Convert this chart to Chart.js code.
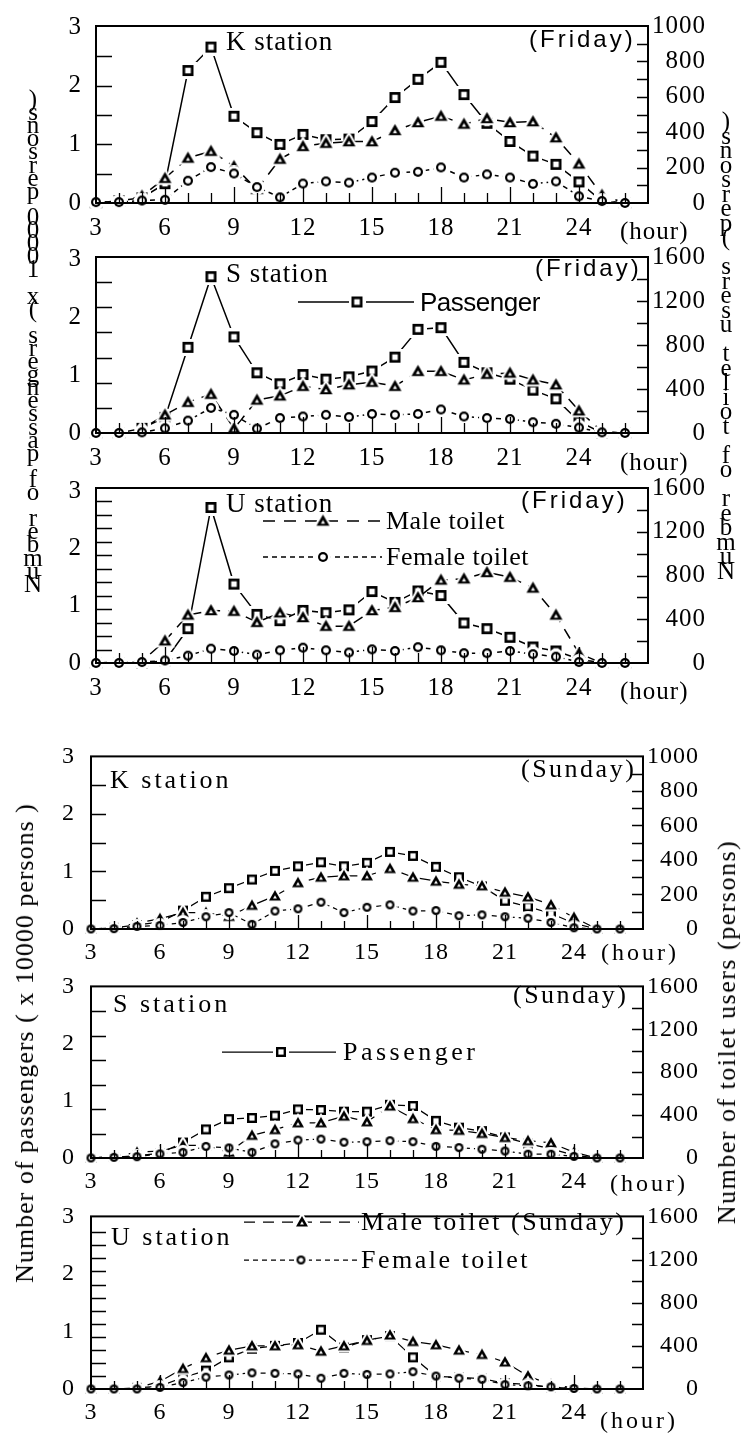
<!DOCTYPE html>
<html><head><meta charset="utf-8">
<script src="https://cdn.jsdelivr.net/npm/chart.js@4.4.1/dist/chart.umd.min.js"></script>
<style>
html,body{margin:0;padding:0;background:#fff;}
#wrap{position:relative;width:748px;height:1435px;overflow:hidden;background:#fff;}
canvas{position:absolute;left:0;}
.t{position:absolute;white-space:nowrap;color:#000;line-height:1;transform:translateY(-50%);}
.serif{font-family:"Liberation Serif","Times New Roman",serif;}
.sans{font-family:"Liberation Sans",Arial,sans-serif;}
.rot{position:absolute;white-space:nowrap;color:#000;line-height:1;transform:translate(-50%,-50%) rotate(-90deg);}
.ch{position:absolute;line-height:1;transform:translate(-50%,-50%);color:#000;}
</style></head><body><div id="wrap"></div>
<script>
// ---------- data (hours 3..26) ----------
const hours = [3,4,5,6,7,8,9,10,11,12,13,14,15,16,17,18,19,20,21,22,23,24,25,26];
const xTickLabels = [3,6,9,12,15,18,21,24];
const leftTickLabels = [0,1,2,3];
const rightTicks1000 = [0,200,400,600,800,1000];
const rightTicks1600 = [0,400,800,1200,1600];

// Friday (passengers x10000 ; toilet users persons)
const friK_pass   = [0,0.04,0.09,0.33,2.26,2.66,1.48,1.2,1.0,1.17,1.08,1.09,1.39,1.8,2.11,2.4,1.85,1.36,1.05,0.8,0.66,0.36,0.03,0];
const friK_male   = [0,10,40,140,254,293,207,77,248,320,338,347,347,410,455,491,446,478,455,460,369,221,45,0];
const friK_female = [5,5,14,18,126,203,167,90,32,110,122,115,144,171,176,201,144,162,144,108,122,38,11,0];

const friS_pass   = [0,0,0.08,0.27,1.48,2.70,1.66,1.04,0.85,1.01,0.93,0.97,1.07,1.31,1.79,1.82,1.22,1.04,0.93,0.74,0.59,0.2,0,0];
const friS_male   = [0,0,35,165,280,353,40,300,338,425,396,439,462,425,561,561,483,535,546,483,439,202,14,0];
const friS_female = [0,0,6,43,113,228,165,40,136,150,165,145,173,165,173,214,150,136,127,98,84,49,6,0];

const friU_pass   = [0,0,0,0.04,0.6,2.72,1.38,0.85,0.74,0.92,0.88,0.93,1.25,1.06,1.26,1.18,0.7,0.6,0.45,0.28,0.21,0.07,0,0];
const friU_male   = [0,9,15,203,439,480,474,372,459,416,337,337,480,509,599,759,770,828,785,686,439,87,0,0];
const friU_female = [0,0,9,23,67,131,110,76,116,140,116,96,125,110,145,116,90,90,110,81,58,9,0,0];

// Sunday
const sunK_pass   = [0,0.02,0.07,0.12,0.32,0.56,0.71,0.86,1.01,1.09,1.16,1.09,1.15,1.34,1.27,1.08,0.9,0.74,0.49,0.39,0.27,0.1,0,0];
const sunK_male   = [0,7,33,60,95,95,73,137,191,268,300,308,308,350,300,277,259,250,213,186,140,67,0,0];
const sunK_female = [0,2,15,20,38,71,95,27,104,117,155,95,126,140,104,107,77,82,71,62,38,7,0,0];

const sunS_pass   = [0,0.01,0.04,0.08,0.27,0.5,0.68,0.70,0.74,0.85,0.84,0.81,0.81,0.93,0.91,0.65,0.53,0.47,0.36,0.25,0.16,0.05,0,0];
const sunS_male   = [0,15,53,65,117,117,53,211,264,328,328,390,337,484,367,264,258,229,191,161,141,53,0,0];
const sunS_female = [0,6,12,38,53,108,94,53,132,167,176,147,152,161,152,108,97,82,65,35,35,15,0,0];

const sunU_pass   = [0,0,0.02,0.05,0.2,0.32,0.55,0.7,0.75,0.8,1.03,0.72,0.85,0.92,0.55,0.22,0.2,0.18,0.1,0.08,0.03,0.01,0,0];
const sunU_male   = [0,0,10,70,190,290,360,400,400,410,350,400,450,500,440,410,360,320,250,120,40,10,0,0];
const sunU_female = [0,0,0,15,60,110,130,150,145,140,100,145,135,140,160,120,100,90,40,30,20,5,0,0];

// ---------- styles ----------
const FRI = {tickSize:25, xPad:10, lPad:14, lw:1.5, sq:11, sqB:2.7, tri:13, circ:10, labR:706, xTickLen:[16,10], lTickLen:16};
const SUN = {tickSize:24, xPad:9, lPad:16, lw:1.25, sq:10, sqB:2.4, tri:12, circ:9, labR:699, xTickLen:[14,8], lTickLen:15};

function mk(w,h,fn){const c=document.createElement('canvas');c.width=w;c.height=h;fn(c.getContext('2d'));return c;}
function squareImg(s,b){const H=3,W=s+2*H;return mk(W,W,g=>{g.fillStyle='#fff';g.fillRect(0,0,W,W);g.fillStyle='#000';g.fillRect(H,H,s,s);g.fillStyle='#fff';g.fillRect(H+b,H+b,s-2*b,s-2*b);});}
function triPath(g,cx,cy,w){const h=w*0.87;g.beginPath();g.moveTo(cx,cy-h*2/3);g.lineTo(cx+w/2,cy+h/3);g.lineTo(cx-w/2,cy+h/3);g.closePath();}
function triImg(s){const W=s+8;return mk(W,W,g=>{const c=W/2;g.fillStyle='#fff';triPath(g,c,c+1,s+7);g.fill();g.fillStyle='#000';triPath(g,c,c+1,s);g.fill();g.fillStyle='#fff';triPath(g,c,c+1.5,s*0.32);g.fill();});}
function circImg(s){const H=3,W=s+2*H;return mk(W,W,g=>{const c=W/2;g.fillStyle='#fff';g.beginPath();g.arc(c,c,s/2+H,0,7);g.fill();g.fillStyle='#000';g.beginPath();g.arc(c,c,s/2,0,7);g.fill();g.fillStyle='#fff';g.beginPath();g.arc(c,c,s/2-2.2,0,7);g.fill();});}

const wrap = document.getElementById('wrap');

const panels = [
  {pass:friK_pass, male:friK_male, female:friK_female, l:96, r:648, t:17, b:203, lmax:3.02, lStep:0.5, rmax:1000, rTicks:rightTicks1000, rStep:200, rMinor:100, S:FRI},
  {pass:friS_pass, male:friS_male, female:friS_female, l:96, r:648, t:248, b:433, lmax:3.04, lStep:0.434, rmax:1600, rTicks:rightTicks1600, rStep:400, rMinor:200, S:FRI,
    legend:[{x1:298,x2:414,y:302,dash:[],img:'sq',mx:357}]},
  {pass:friU_pass, male:friU_male, female:friU_female, l:96, r:648, t:479, b:663, lmax:3.06, lStep:0.236, rmax:1600, rTicks:rightTicks1600, rStep:400, rMinor:200, S:FRI,
    legend:[{x1:263,x2:381,y:521,dash:[12,9],img:'tri',mx:323},{x1:263,x2:382,y:557,dash:[5,4],img:'circ',mx:323}]},
  {pass:sunK_pass, male:sunK_male, female:sunK_female, l:91, r:643, t:746, b:929, lmax:3.0, lStep:0.5, rmax:1000, rTicks:rightTicks1000, rStep:200, rMinor:100, S:SUN},
  {pass:sunS_pass, male:sunS_male, female:sunS_female, l:91, r:643, t:976, b:1158, lmax:3.0, lStep:0.428, rmax:1600, rTicks:rightTicks1600, rStep:400, rMinor:200, S:SUN,
    legend:[{x1:222,x2:336,y:1052,dash:[],img:'sq',mx:281}]},
  {pass:sunU_pass, male:sunU_male, female:sunU_female, l:91, r:643, t:1206, b:1389, lmax:3.0, lStep:0.227, rmax:1600, rTicks:rightTicks1600, rStep:400, rMinor:200, S:SUN,
    legend:[{x1:244,x2:359,y:1222,dash:[11,8],img:'tri',mx:302},{x1:244,x2:358,y:1260,dash:[5,4],img:'circ',mx:301}]},
];

function build(p){
  const S = p.S;
  const padTop = 20, below = 46;
  const canvasTop = p.t - padTop;
  const H = padTop + (p.b - p.t) + below;
  const cv = document.createElement('canvas');
  cv.width = 748; cv.height = H;
  cv.style.top = canvasTop + 'px'; cv.style.width = '748px'; cv.style.height = H + 'px';
  wrap.appendChild(cv);
  const imgs = {sq:squareImg(S.sq, S.sqB), tri:triImg(S.tri), circ:circImg(S.circ)};
  const ds = (label, vals, axis, dash, img) => ({
    label, yAxisID:axis, data: hours.map((h,i)=>({x:h, y:vals[i]})),
    borderColor:'#000', borderWidth:S.lw, borderDash:dash, fill:false, tension:0,
    pointStyle:img, pointRadius:5, pointHoverRadius:5, clip:false
  });
  const tickFont = {family:'"Liberation Serif", "Times New Roman", serif', size:S.tickSize};
  const noGrid = {display:false, drawTicks:false};
  const framePlugin = {
    id:'frame',
    beforeDraw(chart){ chart.ctx.letterSpacing = '1px'; },
    afterDatasetsDraw(chart){
      const {ctx, chartArea:{left,right,top,bottom}, scales:{x,yL,yR}} = chart;
      ctx.save();
      ctx.letterSpacing = '0px';
      ctx.strokeStyle = '#000'; ctx.lineWidth = 2; ctx.setLineDash([]);
      ctx.strokeRect(left, top, right-left, bottom-top);
      ctx.lineWidth = 1.3;
      ctx.beginPath();
      for (let h = 4; h <= 26; h++) {
        const px = Math.round(x.getPixelForValue(h)) + 0.5;
        const len = (h % 3 === 0) ? S.xTickLen[0] : S.xTickLen[1];
        ctx.moveTo(px, bottom); ctx.lineTo(px, bottom - len);
      }
      for (let v = p.lStep; v < p.lmax - 0.05; v += p.lStep) {
        const py = Math.round(yL.getPixelForValue(v)) + 0.5;
        ctx.moveTo(left, py); ctx.lineTo(left + S.lTickLen, py);
      }
      for (let v = p.rMinor; v < p.rmax; v += p.rMinor) {
        const py = Math.round(yR.getPixelForValue(v)) + 0.5;
        ctx.moveTo(right, py); ctx.lineTo(right - 11, py);
      }
      ctx.stroke();
      // legend samples
      (p.legend || []).forEach(it => {
        const y = it.y - canvasTop;
        ctx.lineWidth = S.lw; ctx.setLineDash(it.dash);
        ctx.beginPath(); ctx.moveTo(it.x1, y); ctx.lineTo(it.x2, y); ctx.stroke();
        const im = imgs[it.img];
        ctx.drawImage(im, it.mx - im.width/2, y - im.height/2);
      });
      ctx.restore();
    }
  };
  new Chart(cv.getContext('2d'), {
    type:'line',
    data:{datasets:[
      ds('Female toilet', p.female, 'yR', [5,4], imgs.circ),
      ds('Male toilet', p.male, 'yR', [11,8], imgs.tri),
      ds('Passenger', p.pass, 'yL', [], imgs.sq)
    ]},
    options:{
      responsive:false, maintainAspectRatio:false, animation:false, devicePixelRatio:1, events:[],
      layout:{padding:{top:padTop, left:0, right:748 - S.labR, bottom:0}},
      plugins:{legend:{display:false}, tooltip:{enabled:false}},
      scales:{
        x:{type:'linear', min:3, max:27, afterFit:s=>{s.height = below;},
           grid:noGrid, border:{display:false},
           ticks:{stepSize:1, autoSkip:false, maxRotation:0, minRotation:0, padding:S.xPad, color:'#000', font:tickFont,
                  callback:v=> xTickLabels.includes(v) ? String(v) : ''}},
        yL:{position:'left', min:0, max:p.lmax, afterFit:s=>{s.width = p.l;},
            grid:noGrid, border:{display:false},
            ticks:{stepSize:1, includeBounds:false, autoSkip:false, padding:S.lPad, color:'#000', font:tickFont,
                   callback:v=> leftTickLabels.includes(v) ? String(v) : ''}},
        yR:{position:'right', min:0, max:p.rmax, afterFit:s=>{s.width = S.labR - p.r;},
            grid:noGrid, border:{display:false},
            ticks:{stepSize:p.rStep, includeBounds:false, autoSkip:false, crossAlign:'far', padding:4, color:'#000', font:tickFont,
                   callback:v=> p.rTicks.includes(v) ? String(v) : ''}}
      }
    },
    plugins:[framePlugin]
  });
}
panels.forEach(build);

// ---------- text ----------
function txt(s, x, y, cls, size, ls){
  const d = document.createElement('div');
  d.className = 't ' + cls; d.textContent = s;
  d.style.left = x + 'px'; d.style.top = y + 'px'; d.style.fontSize = size + 'px';
  if (ls) d.style.letterSpacing = ls + 'px';
  wrap.appendChild(d);
}
function rot(s, cx, cy, size, ls){
  const d = document.createElement('div');
  d.className = 'rot serif'; d.textContent = s;
  d.style.left = cx + 'px'; d.style.top = cy + 'px'; d.style.fontSize = size + 'px';
  if (ls) d.style.letterSpacing = ls + 'px';
  wrap.appendChild(d);
}
function stacked(s, cx, y0, step, size){
  [...s].forEach((c,i)=>{
    if (c === ' ') return;
    const d = document.createElement('div');
    d.className = 'ch serif'; d.textContent = c;
    d.style.left = cx + 'px'; d.style.top = (y0 + i*step) + 'px'; d.style.fontSize = size + 'px';
    wrap.appendChild(d);
  });
}

// Friday
txt('K station', 226, 41, 'serif', 27, 1);
txt('(Friday)', 529, 39, 'sans', 24, 3);
txt('S station', 226, 273, 'serif', 27, 1);
txt('(Friday)', 535, 268, 'sans', 24, 3);
txt('Passenger', 420, 302, 'sans', 26, -0.5);
txt('U station', 226, 503, 'serif', 27, 1);
txt('(Friday)', 521, 500, 'sans', 24, 3);
txt('Male toilet', 386, 521, 'serif', 26, 0.5);
txt('Female toilet', 386, 557, 'serif', 26, 0.5);
txt('(hour)', 620, 230, 'serif', 25, 1);
txt('(hour)', 620, 461, 'serif', 25, 1);
txt('(hour)', 620, 690, 'serif', 25, 1);
stacked(')snosrep 00001 x( sregnessap fo rebmuN', 33, 98, 13.1, 25);
stacked(')snosrep( sresu teliot fo rebmuN', 726, 120, 14.5, 25);

// Sunday
txt('K station', 110, 780, 'serif', 26, 3);
txt('(Sunday)', 521, 769, 'serif', 26, 2.5);
txt('S station', 113, 1004, 'serif', 26, 3);
txt('(Sunday)', 513, 995, 'serif', 26, 2.5);
txt('Passenger', 343, 1052, 'serif', 26, 3.5);
txt('U station', 111, 1237, 'serif', 26, 3);
txt('Male toilet', 361, 1222, 'serif', 26, 2.5);
txt('(Sunday)', 511, 1222, 'serif', 26, 2.5);
txt('Female toilet', 361, 1260, 'serif', 26, 2.5);
txt('(hour)', 601, 952, 'serif', 24, 3);
txt('(hour)', 610, 1183, 'serif', 24, 3);
txt('(hour)', 600, 1420, 'serif', 24, 3);
rot('Number of passengers ( x 10000 persons )', 25, 1043, 26, 1);
rot('Number of toilet users (persons)', 727, 1032, 26, 1.5);
</script>
</body></html>
